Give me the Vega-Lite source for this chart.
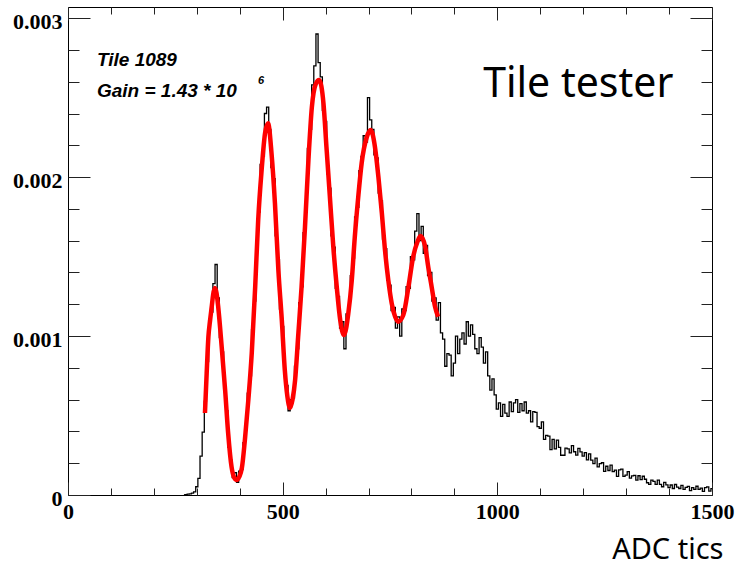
{
"$schema": "https://vega.github.io/schema/vega-lite/v6.json",
"width": 644, "height": 488,
"autosize": {"type": "none"},
"padding": {"left": 68, "top": 7, "right": 24, "bottom": 71},
"background": "white",
"config": {"view": {"stroke": "#000", "strokeWidth": 1}, "axis": {"grid": false, "domain": false}},
"resolve": {"axis": {"x": "independent", "y": "independent"}},
"layer": [
{
"data": {"values": [
{"adc":270,"v":0},{"adc":275,"v":0.002e-3},{"adc":280,"v":0.006e-3},{"adc":285,"v":0.007e-3},{"adc":290,"v":0.012e-3},{"adc":295,"v":0.020e-3},{"adc":300,"v":0.052e-3},{"adc":305,"v":0.105e-3},{"adc":310,"v":0.245e-3},{"adc":315,"v":0.395e-3},
{"adc":320,"v":0.59e-3},{"adc":325,"v":0.84e-3},{"adc":330,"v":1.10e-3},{"adc":335,"v":1.15e-3},{"adc":340,"v":1.33e-3},{"adc":345,"v":1.45e-3},{"adc":350,"v":1.24e-3},{"adc":355,"v":0.99e-3},{"adc":360,"v":0.90e-3},{"adc":365,"v":0.66e-3},
{"adc":370,"v":0.53e-3},{"adc":375,"v":0.30e-3},{"adc":380,"v":0.22e-3},{"adc":385,"v":0.11e-3},{"adc":390,"v":0.14e-3},{"adc":395,"v":0.08e-3},{"adc":400,"v":0.15e-3},{"adc":405,"v":0.16e-3},{"adc":410,"v":0.33e-3},{"adc":415,"v":0.42e-3},
{"adc":420,"v":0.64e-3},{"adc":425,"v":0.75e-3},{"adc":430,"v":1.04e-3},{"adc":435,"v":1.22e-3},{"adc":440,"v":1.60e-3},{"adc":445,"v":1.78e-3},{"adc":450,"v":2.08e-3},{"adc":455,"v":2.13e-3},{"adc":460,"v":2.40e-3},{"adc":465,"v":2.44e-3},
{"adc":470,"v":2.30e-3},{"adc":475,"v":2.06e-3},{"adc":480,"v":1.99e-3},{"adc":485,"v":1.63e-3},{"adc":490,"v":1.48e-3},{"adc":495,"v":1.17e-3},{"adc":500,"v":1.06e-3},{"adc":505,"v":0.76e-3},{"adc":510,"v":0.69e-3},{"adc":515,"v":0.53e-3},
{"adc":520,"v":0.60e-3},{"adc":525,"v":0.61e-3},{"adc":530,"v":0.81e-3},{"adc":535,"v":0.92e-3},{"adc":540,"v":1.21e-3},{"adc":545,"v":1.31e-3},{"adc":550,"v":1.65e-3},{"adc":555,"v":1.80e-3},{"adc":560,"v":2.18e-3},{"adc":565,"v":2.30e-3},
{"adc":570,"v":2.58e-3},{"adc":575,"v":2.70e-3},{"adc":580,"v":2.90e-3},{"adc":585,"v":2.72e-3},{"adc":590,"v":2.63e-3},{"adc":595,"v":2.42e-3},{"adc":600,"v":2.35e-3},{"adc":605,"v":2.02e-3},{"adc":610,"v":1.93e-3},{"adc":615,"v":1.63e-3},
{"adc":620,"v":1.56e-3},{"adc":625,"v":1.30e-3},{"adc":630,"v":1.25e-3},{"adc":635,"v":1.05e-3},{"adc":640,"v":1.09e-3},{"adc":645,"v":0.92e-3},{"adc":650,"v":1.14e-3},{"adc":655,"v":1.17e-3},{"adc":660,"v":1.38e-3},{"adc":665,"v":1.49e-3},
{"adc":670,"v":1.75e-3},{"adc":675,"v":1.81e-3},{"adc":680,"v":2.04e-3},{"adc":685,"v":2.13e-3},{"adc":690,"v":2.26e-3},{"adc":695,"v":2.22e-3},{"adc":700,"v":2.50e-3},{"adc":705,"v":2.36e-3},{"adc":710,"v":2.30e-3},{"adc":715,"v":2.14e-3},
{"adc":720,"v":2.12e-3},{"adc":725,"v":1.90e-3},{"adc":730,"v":1.85e-3},{"adc":735,"v":1.61e-3},{"adc":740,"v":1.55e-3},{"adc":745,"v":1.35e-3},{"adc":750,"v":1.32e-3},{"adc":755,"v":1.16e-3},{"adc":760,"v":1.18e-3},{"adc":765,"v":1.05e-3},
{"adc":770,"v":1.12e-3},{"adc":775,"v":1.00e-3},{"adc":780,"v":1.17e-3},{"adc":785,"v":1.16e-3},{"adc":790,"v":1.31e-3},{"adc":795,"v":1.30e-3},{"adc":800,"v":1.50e-3},{"adc":805,"v":1.48e-3},{"adc":810,"v":1.66e-3},{"adc":815,"v":1.77e-3},
{"adc":820,"v":1.60e-3},{"adc":825,"v":1.69e-3},{"adc":830,"v":1.52e-3},{"adc":835,"v":1.57e-3},{"adc":840,"v":1.38e-3},{"adc":845,"v":1.40e-3},{"adc":850,"v":1.22e-3},{"adc":855,"v":1.24e-3},{"adc":860,"v":1.10e-3},{"adc":865,"v":1.21e-3},
{"adc":870,"v":1.02e-3},{"adc":875,"v":0.98e-3},{"adc":880,"v":0.81e-3},{"adc":885,"v":0.89e-3},{"adc":890,"v":0.88e-3},{"adc":895,"v":0.75e-3},{"adc":900,"v":0.83e-3},{"adc":905,"v":1.00e-3},{"adc":910,"v":0.89e-3},{"adc":915,"v":0.98e-3},
{"adc":920,"v":1.02e-3},{"adc":925,"v":0.95e-3},{"adc":930,"v":1.09e-3},{"adc":935,"v":1.00e-3},{"adc":940,"v":1.07e-3},{"adc":945,"v":1.01e-3},{"adc":950,"v":0.92e-3},{"adc":955,"v":0.89e-3},{"adc":960,"v":0.99e-3},{"adc":965,"v":0.93e-3},
{"adc":970,"v":0.83e-3},{"adc":975,"v":0.90e-3},{"adc":980,"v":0.75e-3},{"adc":985,"v":0.66e-3},{"adc":990,"v":0.73e-3},{"adc":995,"v":0.63e-3},{"adc":1000,"v":0.54e-3},{"adc":1005,"v":0.58e-3},{"adc":1010,"v":0.495e-3},{"adc":1015,"v":0.57e-3},
{"adc":1020,"v":0.515e-3},{"adc":1025,"v":0.495e-3},{"adc":1030,"v":0.585e-3},{"adc":1035,"v":0.525e-3},{"adc":1040,"v":0.58e-3},{"adc":1045,"v":0.60e-3},{"adc":1050,"v":0.52e-3},{"adc":1055,"v":0.575e-3},{"adc":1060,"v":0.53e-3},{"adc":1065,"v":0.585e-3},
{"adc":1070,"v":0.515e-3},{"adc":1075,"v":0.53e-3},{"adc":1080,"v":0.46e-3},{"adc":1085,"v":0.525e-3},{"adc":1090,"v":0.52e-3},{"adc":1095,"v":0.43e-3},{"adc":1100,"v":0.42e-3},{"adc":1105,"v":0.46e-3},{"adc":1110,"v":0.35e-3},{"adc":1115,"v":0.375e-3},
{"adc":1120,"v":0.37e-3},{"adc":1125,"v":0.285e-3},{"adc":1130,"v":0.35e-3},{"adc":1135,"v":0.29e-3},{"adc":1140,"v":0.345e-3},{"adc":1145,"v":0.30e-3},{"adc":1150,"v":0.25e-3},{"adc":1155,"v":0.25e-3},{"adc":1160,"v":0.295e-3},{"adc":1165,"v":0.29e-3},
{"adc":1170,"v":0.265e-3},{"adc":1175,"v":0.31e-3},{"adc":1180,"v":0.272e-3},{"adc":1185,"v":0.251e-3},{"adc":1190,"v":0.293e-3},{"adc":1195,"v":0.271e-3},{"adc":1200,"v":0.244e-3},{"adc":1205,"v":0.267e-3},{"adc":1210,"v":0.221e-3},{"adc":1215,"v":0.259e-3},
{"adc":1220,"v":0.219e-3},{"adc":1225,"v":0.197e-3},{"adc":1230,"v":0.232e-3},{"adc":1235,"v":0.177e-3},{"adc":1240,"v":0.198e-3},{"adc":1245,"v":0.203e-3},{"adc":1250,"v":0.148e-3},{"adc":1255,"v":0.181e-3},{"adc":1260,"v":0.154e-3},{"adc":1265,"v":0.188e-3},
{"adc":1270,"v":0.147e-3},{"adc":1275,"v":0.157e-3},{"adc":1280,"v":0.117e-3},{"adc":1285,"v":0.158e-3},{"adc":1290,"v":0.163e-3},{"adc":1295,"v":0.117e-3},{"adc":1300,"v":0.125e-3},{"adc":1305,"v":0.147e-3},{"adc":1310,"v":0.106e-3},{"adc":1315,"v":0.120e-3},
{"adc":1320,"v":0.123e-3},{"adc":1325,"v":0.094e-3},{"adc":1330,"v":0.121e-3},{"adc":1335,"v":0.097e-3},{"adc":1340,"v":0.118e-3},{"adc":1345,"v":0.099e-3},{"adc":1350,"v":0.077e-3},{"adc":1355,"v":0.067e-3},{"adc":1360,"v":0.093e-3},{"adc":1365,"v":0.086e-3},
{"adc":1370,"v":0.067e-3},{"adc":1375,"v":0.094e-3},{"adc":1380,"v":0.067e-3},{"adc":1385,"v":0.052e-3},{"adc":1390,"v":0.079e-3},{"adc":1395,"v":0.064e-3},{"adc":1400,"v":0.047e-3},{"adc":1405,"v":0.063e-3},{"adc":1410,"v":0.041e-3},{"adc":1415,"v":0.066e-3},
{"adc":1420,"v":0.049e-3},{"adc":1425,"v":0.041e-3},{"adc":1430,"v":0.061e-3},{"adc":1435,"v":0.035e-3},{"adc":1440,"v":0.048e-3},{"adc":1445,"v":0.054e-3},{"adc":1450,"v":0.027e-3},{"adc":1455,"v":0.047e-3},{"adc":1460,"v":0.035e-3},{"adc":1465,"v":0.055e-3},
{"adc":1470,"v":0.035e-3},{"adc":1475,"v":0.043e-3},{"adc":1480,"v":0.023e-3},{"adc":1485,"v":0.047e-3},{"adc":1490,"v":0.051e-3},{"adc":1495,"v":0.025e-3},{"adc":1500,"v":0.040e-3}
]},
"mark": {"type": "line", "color": "#000", "strokeWidth": 1.3, "interpolate": "step"},
"encoding": {
"x": {"field": "adc", "type": "quantitative", "scale": {"domain": [0, 1500], "nice": false, "zero": false},
 "axis": {"orient": "bottom", "values": [0, 500, 1000, 1500], "format": "d", "ticks": false, "tickSize": 0, "labelFont": "Liberation Serif", "labelFontWeight": "bold", "labelFontSize": 22, "labelColor": "#000", "labelPadding": 6, "labelFlush": false, "labelOverlap": false,
  "title": "ADC tics", "titleFont": "Noto Sans", "titleFontSize": 29, "titleFontWeight": "normal", "titleColor": "#000", "titleX": 655, "titleY": 63, "titleAlign": "right", "titleBaseline": "alphabetic"}},
"y": {"field": "v", "type": "quantitative", "scale": {"domain": [0, 0.00307], "nice": false, "zero": false},
 "axis": {"orient": "left", "values": [0, 0.001, 0.002, 0.003], "format": "~g", "ticks": false, "tickSize": 0, "labelFont": "Liberation Serif", "labelFontWeight": "bold", "labelFontSize": 22, "labelColor": "#000", "labelPadding": 6, "labelOffset": 3, "labelFlush": false, "labelOverlap": false, "labelBaseline": "middle", "title": null}}
}
},
{
"data": {"values": [
{"adc":319,"v":0.516e-3},{"adc":323,"v":0.767e-3},{"adc":327,"v":0.994e-3},{"adc":331,"v":1.10e-3},{"adc":335,"v":1.19e-3},{"adc":338,"v":1.26e-3},{"adc":342,"v":1.302e-3},{"adc":346,"v":1.27e-3},{"adc":350,"v":1.18e-3},{"adc":358,"v":0.931e-3},
{"adc":366,"v":0.660e-3},{"adc":373,"v":0.390e-3},{"adc":381,"v":0.176e-3},{"adc":387,"v":0.110e-3},{"adc":393,"v":0.094e-3},{"adc":399,"v":0.115e-3},{"adc":405,"v":0.170e-3},{"adc":412,"v":0.346e-3},{"adc":420,"v":0.597e-3},{"adc":428,"v":0.893e-3},
{"adc":436,"v":1.310e-3},{"adc":443,"v":1.730e-3},{"adc":451,"v":2.044e-3},{"adc":459,"v":2.277e-3},{"adc":466,"v":2.338e-3},{"adc":474,"v":2.151e-3},{"adc":482,"v":1.836e-3},{"adc":490,"v":1.415e-3},{"adc":498,"v":1.101e-3},{"adc":505,"v":0.786e-3},
{"adc":511,"v":0.620e-3},{"adc":517,"v":0.547e-3},{"adc":523,"v":0.600e-3},{"adc":529,"v":0.723e-3},{"adc":536,"v":0.994e-3},{"adc":544,"v":1.308e-3},{"adc":552,"v":1.686e-3},{"adc":560,"v":2.107e-3},{"adc":568,"v":2.440e-3},{"adc":577,"v":2.585e-3},
{"adc":585,"v":2.610e-3},{"adc":595,"v":2.465e-3},{"adc":602,"v":2.189e-3},{"adc":610,"v":1.874e-3},{"adc":618,"v":1.560e-3},{"adc":626,"v":1.308e-3},{"adc":634,"v":1.101e-3},{"adc":643,"v":1.006e-3},{"adc":653,"v":1.145e-3},{"adc":661,"v":1.352e-3},
{"adc":668,"v":1.623e-3},{"adc":676,"v":1.874e-3},{"adc":684,"v":2.088e-3},{"adc":696,"v":2.252e-3},{"adc":705,"v":2.296e-3},{"adc":715,"v":2.189e-3},{"adc":723,"v":2.000e-3},{"adc":731,"v":1.774e-3},{"adc":738,"v":1.550e-3},{"adc":746,"v":1.352e-3},
{"adc":754,"v":1.206e-3},{"adc":762,"v":1.121e-3},{"adc":769,"v":1.090e-3},{"adc":781,"v":1.132e-3},{"adc":793,"v":1.310e-3},{"adc":804,"v":1.499e-3},{"adc":814,"v":1.593e-3},{"adc":821,"v":1.629e-3},{"adc":832,"v":1.562e-3},{"adc":839,"v":1.436e-3},
{"adc":847,"v":1.310e-3},{"adc":855,"v":1.184e-3},{"adc":862,"v":1.121e-3}
]},
"mark": {"type": "line", "color": "#ff0000", "strokeWidth": 4.5, "interpolate": "monotone"},
"encoding": {
"x": {"field": "adc", "type": "quantitative", "scale": {"domain": [0, 1500], "nice": false, "zero": false},
 "axis": {"orient": "bottom", "values": [0, 500, 1000, 1500], "labels": false, "ticks": true, "tickSize": -13, "tickColor": "#222", "tickWidth": 1, "title": null}},
"y": {"field": "v", "type": "quantitative", "scale": {"domain": [0, 0.00307], "nice": false, "zero": false},
 "axis": {"orient": "left", "values": [0, 0.001, 0.002, 0.003], "labels": false, "ticks": true, "tickSize": -22, "tickColor": "#222", "tickWidth": 1, "title": null}}
}
},
{
"data": {"values": [{"adc": 967, "v": 0.002501, "t": "Tile tester"}]},
"mark": {"type": "text", "align": "left", "baseline": "alphabetic", "font": "Noto Sans", "fontSize": 41, "color": "#000"},
"encoding": {
"x": {"field": "adc", "type": "quantitative", "scale": {"domain": [0, 1500], "nice": false, "zero": false},
 "axis": {"orient": "bottom", "values": [100, 200, 300, 400, 600, 700, 800, 900, 1100, 1200, 1300, 1400], "labels": false, "ticks": true, "tickSize": -7, "tickColor": "#222", "tickWidth": 1, "title": null}},
"y": {"field": "v", "type": "quantitative", "scale": {"domain": [0, 0.00307], "nice": false, "zero": false},
 "axis": {"orient": "left", "values": [0.0002, 0.0004, 0.0006, 0.0008, 0.0012, 0.0014, 0.0016, 0.0018, 0.0022, 0.0024, 0.0026, 0.0028], "labels": false, "ticks": true, "tickSize": -11, "tickColor": "#222", "tickWidth": 1, "title": null}},
"text": {"field": "t", "type": "nominal"}
}
},
{
"data": {"values": [{"adc": 67.5, "v": 0.002698, "t": "Tile 1089"}, {"adc": 67.5, "v": 0.002505, "t": "Gain = 1.43 * 10"}]},
"mark": {"type": "text", "align": "left", "baseline": "alphabetic", "font": "Liberation Sans", "fontSize": 19, "fontWeight": "bold", "fontStyle": "italic", "color": "#000"},
"encoding": {
"x": {"field": "adc", "type": "quantitative", "scale": {"domain": [0, 1500], "nice": false, "zero": false},
 "axis": {"orient": "top", "values": [0, 500, 1000, 1500], "labels": false, "ticks": true, "tickSize": -13, "tickColor": "#222", "tickWidth": 1, "title": null}},
"y": {"field": "v", "type": "quantitative", "scale": {"domain": [0, 0.00307], "nice": false, "zero": false},
 "axis": {"orient": "right", "values": [0, 0.001, 0.002, 0.003], "labels": false, "ticks": true, "tickSize": -22, "tickColor": "#222", "tickWidth": 1, "title": null}},
"text": {"field": "t", "type": "nominal"}
}
},
{
"data": {"values": [{"adc": 442.5, "v": 0.002585, "t": "6"}]},
"mark": {"type": "text", "align": "left", "baseline": "alphabetic", "font": "Liberation Sans", "fontSize": 11, "fontWeight": "bold", "fontStyle": "italic", "color": "#000"},
"encoding": {
"x": {"field": "adc", "type": "quantitative", "scale": {"domain": [0, 1500], "nice": false, "zero": false},
 "axis": {"orient": "top", "values": [100, 200, 300, 400, 600, 700, 800, 900, 1100, 1200, 1300, 1400], "labels": false, "ticks": true, "tickSize": -7, "tickColor": "#222", "tickWidth": 1, "title": null}},
"y": {"field": "v", "type": "quantitative", "scale": {"domain": [0, 0.00307], "nice": false, "zero": false},
 "axis": {"orient": "right", "values": [0.0002, 0.0004, 0.0006, 0.0008, 0.0012, 0.0014, 0.0016, 0.0018, 0.0022, 0.0024, 0.0026, 0.0028], "labels": false, "ticks": true, "tickSize": -11, "tickColor": "#222", "tickWidth": 1, "title": null}},
"text": {"field": "t", "type": "nominal"}
}
}
]
}
